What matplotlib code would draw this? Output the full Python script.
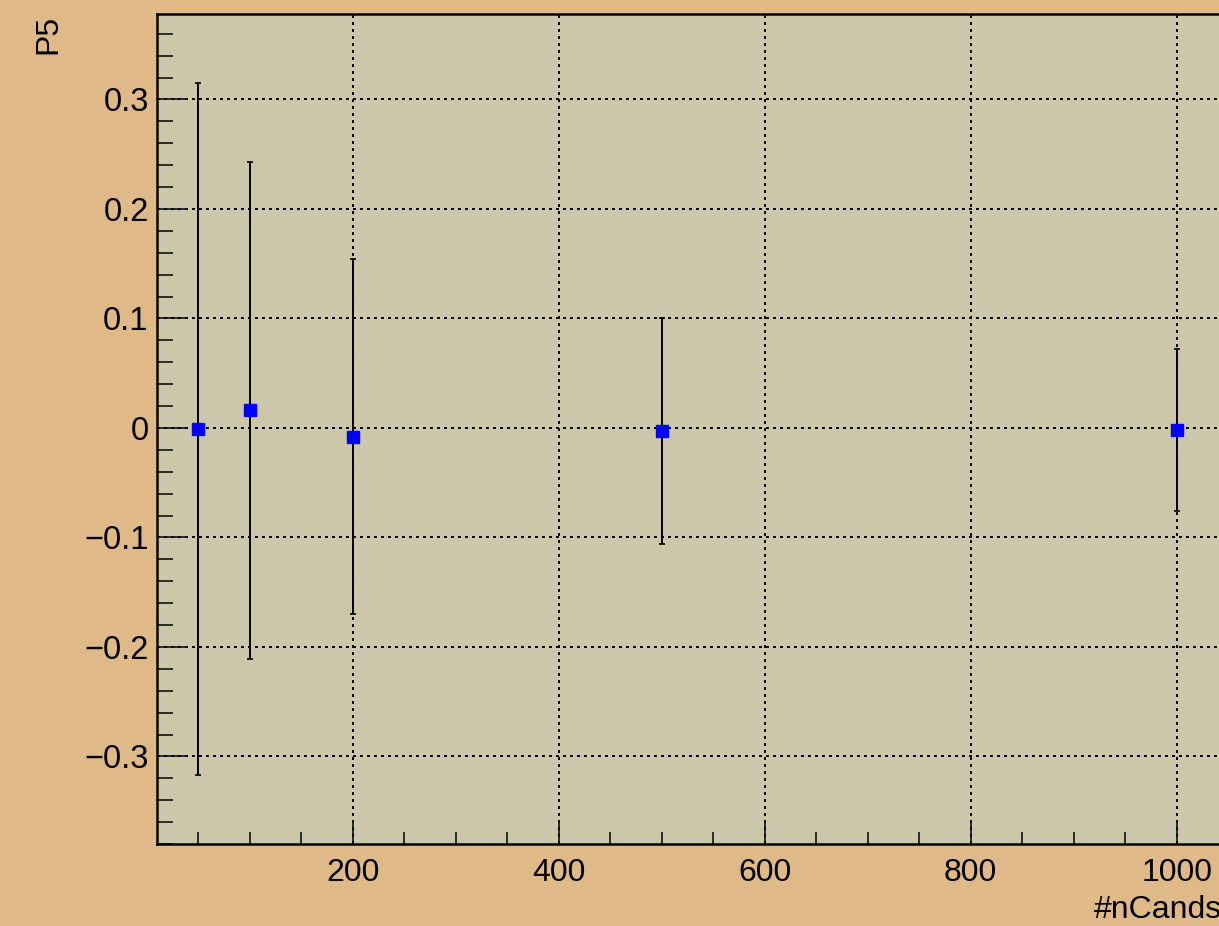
import matplotlib
matplotlib.use("Agg")
import matplotlib.pyplot as plt
from matplotlib.ticker import MultipleLocator, FuncFormatter

plt.rcParams["font.family"] = ["Liberation Sans", "DejaVu Sans"]

n_cands = [50, 100, 200, 500, 1000]
p5 = [-0.001, 0.016, -0.008, -0.003, -0.002]
p5_err = [0.316, 0.227, 0.162, 0.103, 0.074]

W, H = 1219, 926
fig = plt.figure(figsize=(W / 100, H / 100), dpi=100)
fig.patch.set_facecolor("#DFB988")

# frame: left edge at px 157, top 14, bottom 844; right edge runs past the image
x_lo, x_hi = 10, 1070
px_per_unit = 1.03
left, top, bottom = 157, 14, 844
right = left + (x_hi - x_lo) * px_per_unit
ax = fig.add_axes([left / W, (H - bottom) / H, (right - left) / W, (bottom - top) / H])
ax.set_facecolor("#CCC7AB")

ax.errorbar(n_cands, p5, yerr=p5_err, fmt="s", color="blue", markersize=8,
            ecolor="black", elinewidth=1.4, capsize=2.5, capthick=1.2, zorder=3)

ax.set_xlim(x_lo, x_hi)
ax.set_ylim(-0.38, 0.378)

ax.xaxis.set_major_locator(MultipleLocator(200))
ax.xaxis.set_minor_locator(MultipleLocator(50))
ax.yaxis.set_major_locator(MultipleLocator(0.1))
ax.yaxis.set_minor_locator(MultipleLocator(0.02))

fmt = FuncFormatter(lambda v, p: ("%g" % round(v, 3)).replace("-", "\u2212"))
ax.xaxis.set_major_formatter(fmt)
ax.yaxis.set_major_formatter(fmt)

ax.tick_params(axis="both", which="both", direction="in", colors="black", width=1.1)
ax.tick_params(axis="y", which="major", length=22, pad=6, labelsize=23.5)
ax.tick_params(axis="y", which="minor", length=11.5)
ax.tick_params(axis="x", which="major", length=17, pad=10, labelsize=23)
ax.tick_params(axis="x", which="minor", length=8.5)

ax.grid(True, which="major", color="black", linestyle=(0, (1.5, 2.1)), linewidth=1.4)

for s in ["left", "bottom", "top", "right"]:
    ax.spines[s].set_linewidth(1.8)
    ax.spines[s].set_color("black")

fig.text(48 / W, 1 - 15 / H, "P5", rotation=90, ha="center", va="top", fontsize=23)
fig.text(1094 / W, 1 - 918 / H, "#nCands", ha="left", va="baseline", fontsize=23)

fig.savefig("out.png", dpi=100, facecolor=fig.get_facecolor())
